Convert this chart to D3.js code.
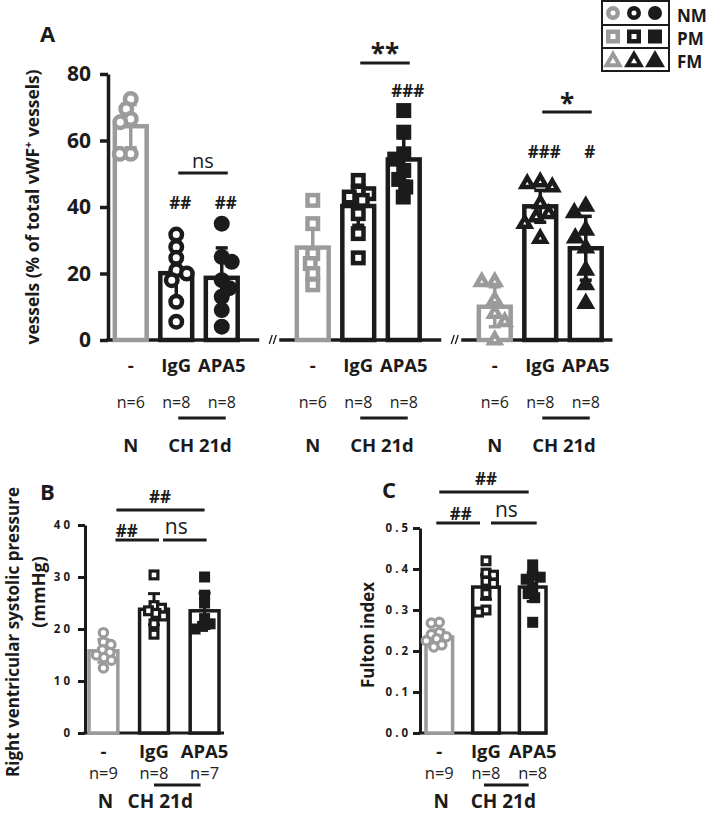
<!DOCTYPE html>
<html><head><meta charset="utf-8">
<script src="https://cdn.jsdelivr.net/npm/d3@7"></script>
<style>body{margin:0;background:#fff} text{font-family:"Open Sans",sans-serif;fill:#1b1b1b}</style>
</head><body><svg id="c" width="709" height="816"></svg>
<script>
// ---------------- DATA ----------------
const groupLabels = ["-", "IgG", "APA5"];
const conditionLabels = ["N", "CH 21d"];
const vesselTypes = ["NM", "PM", "FM"];
const nA = ["n=6", "n=8", "n=8"];
const aTicks = [0, 20, 40, 60, 80];

const nmMean = [64.3, 20.1, 18.7], nmSD = [6.5, 7.5, 9.0];
const pmMean = [27.8, 40.3, 54.3], pmSD = [8.5, 5.8, 6.5];
const fmMean = [10.0, 40.2, 27.6], fmSD = [6.0, 4.8, 9.6];
const nmPoints = [[72.5, 69.5, 66.5, 65.5, 56, 56], [31.7, 28, 24.7, 21, 20, 18, 11.5, 5.5], [35, 25, 23.5, 18, 15.6, 13, 9, 4]];
const pmPoints = [[42, 35, 26, 23, 20, 16.6], [48, 44.5, 44, 43, 42, 38, 32, 24.7], [69, 62.5, 56, 54.4, 51, 48.3, 46, 43]];
const fmPoints = [[17.5, 17.5, 12, 8, 5.5, 0], [47.5, 47, 46, 41, 38, 37, 35, 30.5], [40.2, 38.3, 33, 30.7, 27.7, 21, 16.6, 11]];
const aHash = [["", "##", "##"], ["", "", "###"], ["", "###", "#"]];
const aPair = ["ns", "**", "*"];

const nB = ["n=9", "n=8", "n=7"];
const bTicks = [0, 10, 20, 30, 40];
const rvspMean = [15.8, 23.8, 23.5], rvspSD = [2.2, 3.0, 3.4];
const rvspPoints = [[19.3, 17.5, 17, 16, 15.5, 15, 14.5, 14, 12.5], [30.4, 24.5, 24, 23.5, 23, 22.5, 21, 19], [30, 26.5, 25, 22, 21, 20.5, 20]];

const nC = ["n=9", "n=8", "n=8"];
const cTicks = [0, 0.1, 0.2, 0.3, 0.4, 0.5];
const fultonMean = [0.234, 0.356, 0.356], fultonSD = [0.017, 0.03, 0.035];
const fultonPoints = [[0.27, 0.268, 0.245, 0.24, 0.235, 0.23, 0.225, 0.215, 0.21], [0.42, 0.39, 0.385, 0.37, 0.365, 0.34, 0.30, 0.295], [0.41, 0.385, 0.38, 0.375, 0.355, 0.34, 0.33, 0.27]];
const sigBC = { top: "##", left: "##", right: "ns" };

// ---------------- HELPERS ----------------
const svg = d3.select("#c");
const GRAY = "#9b9b9b", BLK = "#1b1b1b";

function marker(g, shape, filled, color, cx, cy, size, sw) {
  if (shape === "circle") {
    g.append("circle").attr("cx", cx).attr("cy", cy)
      .attr("r", filled ? size / 2 : size / 2 - sw / 2)
      .attr("fill", filled ? color : "#fff").attr("stroke", filled ? "none" : color).attr("stroke-width", sw);
  } else if (shape === "square") {
    const s = filled ? size : size - sw;
    g.append("rect").attr("x", cx - s / 2).attr("y", cy - s / 2).attr("width", s).attr("height", s)
      .attr("fill", filled ? color : "#fff").attr("stroke", filled ? "none" : color).attr("stroke-width", sw);
  } else {
    const s = filled ? size : size - sw * Math.sqrt(3);
    const area = Math.sqrt(3) / 4 * s * s;
    g.append("path").attr("transform", `translate(${cx},${cy})`)
      .attr("d", d3.symbol(d3.symbolTriangle, area)())
      .attr("fill", filled ? color : "#fff").attr("stroke", filled ? "none" : color)
      .attr("stroke-width", sw).attr("stroke-linejoin", "miter");
  }
}

// deterministic beeswarm offsets
function swarm(values, yScale, diam, maxOff) {
  const minD = diam * 0.68;
  const placed = [];
  const res = new Array(values.length);
  const order = values.map((v, i) => i).sort((a, b) => values[b] - values[a]);
  order.forEach((i, k) => {
    const py = yScale(values[i]);
    const sign = k % 2 ? -1 : 1;
    let chosen = null, bestOff = 0, bestD = -1;
    for (let s = 0; s <= maxOff; s += 0.5) {
      for (const o of (s === 0 ? [0] : [sign * s, -sign * s])) {
        let md = Infinity;
        placed.forEach(p => { md = Math.min(md, Math.hypot(p[0] - o, p[1] - py)); });
        if (md >= minD) { chosen = o; break; }
        if (md > bestD) { bestD = md; bestOff = o; }
      }
      if (chosen !== null) break;
    }
    if (chosen === null) chosen = bestOff;
    placed.push([chosen, py]);
    res[i] = [chosen, py];
  });
  return res;
}

function styleAxis(g, sw, fs) {
  g.select(".domain").attr("stroke", BLK).attr("stroke-width", sw);
  g.selectAll(".tick line").attr("stroke", BLK).attr("stroke-width", sw);
  g.selectAll(".tick text").attr("font-size", fs).attr("font-weight", 700).attr("fill", BLK);
}

function txt(x, y, s, fs, fw, anchor) {
  return svg.append("text").attr("x", x).attr("y", y).attr("font-size", fs)
    .attr("font-weight", fw || 400).attr("text-anchor", anchor || "middle").text(s);
}
function hline(x1, x2, y, sw) {
  svg.append("line").attr("x1", x1).attr("x2", x2).attr("y1", y).attr("y2", y)
    .attr("stroke", BLK).attr("stroke-width", sw || 3);
}

// ---------------- PANEL A ----------------
const seriesA = [
  { shape: "circle", mean: nmMean, sd: nmSD, pts: nmPoints },
  { shape: "square", mean: pmMean, sd: pmSD, pts: pmPoints },
  { shape: "triangle", mean: fmMean, sd: fmSD, pts: fmPoints }
];
const slotsA = [];
vesselTypes.forEach((v, gi) => { groupLabels.forEach(g => slotsA.push(v + "|" + g)); if (gi < 2) slotsA.push("gap" + gi); });
const xA = d3.scaleBand().domain(slotsA).range([108, 608.5]).paddingInner(0.3).paddingOuter(0.15);
const yA = d3.scaleLinear().domain([0, 80]).range([340, 74]);
const bwA = xA.bandwidth();
const cA = k => xA(k) + bwA / 2;

txt(40, 42, "A", 22, 700, "start");
svg.append("text").attr("transform", "translate(39,207) rotate(-90)").attr("text-anchor", "middle")
  .attr("font-size", 17).attr("font-weight", 700).attr("textLength", 275).attr("lengthAdjust", "spacingAndGlyphs")
  .call(t => { t.append("tspan").text("vessels (% of total vWF"); t.append("tspan").attr("baseline-shift", "super").attr("font-size", 11).text("+"); t.append("tspan").text(" vessels)"); });

const gyA = svg.append("g").attr("transform", "translate(108,0)")
  .call(d3.axisLeft(yA).tickValues(aTicks).tickSize(8).tickSizeOuter(0).tickPadding(9));
styleAxis(gyA, 3.5, 21);

// x-axis segments with breaks
const gapC = gi => cA("gap" + gi);
vesselTypes.forEach((v, gi) => {
  const x1 = gi === 0 ? 106.3 : gapC(gi - 1) + 12;
  const x2 = gi === 2 ? xA.range()[1] + 4 : gapC(gi) - 8;
  hline(x1, x2, yA(0), 3.5);
  if (gi < 2) {
    const gc = gapC(gi);
    [2, 6].forEach(d => svg.append("line").attr("x1", gc + d).attr("y1", yA(0) + 4).attr("x2", gc + d + 3).attr("y2", yA(0) - 5)
      .attr("stroke", BLK).attr("stroke-width", 1.3));
  }
});

const pairLineY = [173, 63, 112], pairTextY = [168, 63, 113], hashY = [209, 97, 158];
seriesA.forEach((s, gi) => {
  const layer = svg.append("g");
  groupLabels.forEach((lab, bi) => {
    const key = vesselTypes[gi] + "|" + lab;
    const color = bi === 0 ? GRAY : BLK;
    const xc = cA(key);
    layer.append("rect").attr("x", xA(key)).attr("width", bwA)
      .attr("y", yA(s.mean[bi])).attr("height", yA(0) - yA(s.mean[bi]))
      .attr("fill", "#fff").attr("stroke", color).attr("stroke-width", 4.5);
    const lo = yA(s.mean[bi] - s.sd[bi]), hi = yA(s.mean[bi] + s.sd[bi]);
    layer.append("line").attr("x1", xc).attr("x2", xc).attr("y1", lo).attr("y2", hi).attr("stroke", color).attr("stroke-width", 3.5);
    [lo, hi].forEach(yy => layer.append("line").attr("x1", xc - 6).attr("x2", xc + 6).attr("y1", yy).attr("y2", yy).attr("stroke", color).attr("stroke-width", 3.5));
    const size = s.shape === "triangle" ? 19 : (s.shape === "square" ? 15 : 16);
    const pos = swarm(s.pts[bi], yA, size, bwA / 2);
    pos.forEach(p => marker(layer, s.shape, bi === 2, color, xc + p[0], p[1], size, 4.5));
    // labels below
    txt(xc, 372, lab, 18.5, 700);
    txt(xc, 408, nA[bi], 16, 400).style("fill", "#222");
    if (aHash[gi][bi]) txt(xc + 4, hashY[gi], aHash[gi][bi], 17, 700);
  });
  const x1 = cA(vesselTypes[gi] + "|IgG"), x2 = cA(vesselTypes[gi] + "|APA5");
  hline(x1 + 2, x2 + 6, pairLineY[gi], 3);
  txt((x1 + x2) / 2 + 4, pairTextY[gi], aPair[gi], aPair[gi] === "ns" ? 20 : 26, aPair[gi] === "ns" ? 400 : 700);
  hline(x1 + 2, x2 + 4, 418, 3);
  txt(cA(vesselTypes[gi] + "|-"), 452, conditionLabels[0], 18.5, 700);
  txt((x1 + x2) / 2 + 1, 452, conditionLabels[1], 18.5, 700);
});

// legend
const lg = svg.append("g");
lg.append("rect").attr("x", 602).attr("y", 1).attr("width", 67).attr("height", 70).attr("fill", "none").attr("stroke", BLK).attr("stroke-width", 2);
[25, 48].forEach(y => lg.append("line").attr("x1", 602).attr("x2", 669).attr("y1", y).attr("y2", y).attr("stroke", BLK).attr("stroke-width", 2));
const legY = [13, 36.5, 60];
["circle", "square", "triangle"].forEach((sh, ri) => {
  [613, 634, 655].forEach((x, ci) => {
    const size = sh === "triangle" ? 20 : 14;
    marker(lg, sh, ci === 2, ci === 0 ? GRAY : BLK, x, legY[ri] + (sh === "triangle" ? 1.5 : 0), size, sh === "triangle" ? 4 : 4.5);
  });
  lg.append("text").attr("x", 677).attr("y", [22, 44.5, 68][ri]).attr("font-size", 17).attr("font-weight", 700).text(vesselTypes[ri]);
});

// ---------------- PANELS B & C ----------------
function smallPanel(cfg) {
  const x = d3.scaleBand().domain(groupLabels).range(cfg.xr).paddingInner(0.43).paddingOuter(0);
  const y = d3.scaleLinear().domain(cfg.dom).range([733, cfg.top]);
  const bw = x.bandwidth(), c = k => x(k) + bw / 2;
  const ga = svg.append("g").attr("transform", `translate(${cfg.ax},0)`)
    .call(d3.axisLeft(y).tickValues(cfg.ticks).tickSize(7).tickSizeOuter(0).tickPadding(cfg.pad)
      .tickFormat(d => cfg.fmt(d).split("").join(" ")));
  styleAxis(ga, 3, 11.5);
  hline(cfg.ax - 1.5, cfg.axEnd, 733, 3);
  const layer = svg.append("g");
  groupLabels.forEach((lab, bi) => {
    const color = bi === 0 ? GRAY : BLK, xc = c(lab);
    layer.append("rect").attr("x", x(lab)).attr("width", bw).attr("y", y(cfg.mean[bi])).attr("height", 733 - y(cfg.mean[bi]))
      .attr("fill", "#fff").attr("stroke", color).attr("stroke-width", 3.5);
    const lo = y(cfg.mean[bi] - cfg.sd[bi]), hi = y(cfg.mean[bi] + cfg.sd[bi]);
    layer.append("line").attr("x1", xc).attr("x2", xc).attr("y1", lo).attr("y2", hi).attr("stroke", color).attr("stroke-width", 3);
    [lo, hi].forEach(yy => layer.append("line").attr("x1", xc - 6).attr("x2", xc + 6).attr("y1", yy).attr("y2", yy).attr("stroke", color).attr("stroke-width", 3));
    const shape = bi === 0 ? "circle" : "square";
    const size = bi === 0 ? 11.5 : 11;
    swarm(cfg.pts[bi], y, size, bw / 2).forEach(p => marker(layer, shape, bi === 2, color, xc + p[0], p[1], size, 3.2));
    txt(xc, 758, lab, 18.5, 700);
    txt(xc, 779, cfg.n[bi], 16.5, 400).style("fill", "#222");
  });
  const cN = c("-"), cI = c("IgG"), cP = c("APA5");
  hline(cI + cfg.nl[0], cP + cfg.nl[1], 785, 3);
  txt(cN + 2, 808, conditionLabels[0], 19, 700);
  txt((cI + cP) / 2 + cfg.chdx, 808, conditionLabels[1], 19, 700);
  // significance
  hline(cN + cfg.top1[0], cP + cfg.top1[1], cfg.topY, 3);
  txt((cN + cP) / 2 + cfg.top1[2], cfg.topY - 7, sigBC.top, 17, 700);
  hline(cN + cfg.l2[0], cI + cfg.l2[1], cfg.rowY, 3);
  txt((cN + cI) / 2 + cfg.l2[2], cfg.rowY - 3, sigBC.left, 17, 700);
  hline(cI + cfg.r2[0], cP + cfg.r2[1], cfg.rowY, 3);
  txt((cI + cP) / 2 + cfg.r2[2], cfg.rowY - 6, sigBC.right, 21, 400);
  txt(cfg.lx, cfg.ly, cfg.letter, 22, 700, "start");
}

smallPanel({ xr: [89, 219], ax: 85, axEnd: 224, dom: [0, 40], top: 525, ticks: bTicks, pad: 8, fmt: d3.format("d"),
  mean: rvspMean, sd: rvspSD, pts: rvspPoints, n: nB, nl: [0, -4], chdx: -19,
  top1: [13, 0, 6], topY: 510, l2: [12, 5, -2], r2: [9, 2, -3], rowY: 540, letter: "B", lx: 40, ly: 500 });
smallPanel({ xr: [426, 546], ax: 420, axEnd: 547, dom: [0, 0.5], top: 528, ticks: cTicks, pad: 5, fmt: d3.format(".1f"),
  mean: fultonMean, sd: fultonSD, pts: fultonPoints, n: nC, nl: [-2, -4], chdx: -6,
  top1: [0, -4, 0], topY: 492, l2: [-3, -6, -2], r2: [5, 4, -3], rowY: 523, letter: "C", lx: 382, ly: 498 });

// rotated axis titles B & C
svg.append("text").attr("transform", "translate(19,632) rotate(-90)").attr("text-anchor", "middle")
  .attr("font-size", 18).attr("font-weight", 700).attr("textLength", 290).attr("lengthAdjust", "spacingAndGlyphs")
  .text("Right ventricular systolic pressure");
svg.append("text").attr("transform", "translate(45,592) rotate(-90)").attr("text-anchor", "middle")
  .attr("font-size", 18).attr("font-weight", 700).text("(mmHg)");
svg.append("text").attr("transform", "translate(374,635) rotate(-90)").attr("text-anchor", "middle")
  .attr("font-size", 17).attr("font-weight", 700).text("Fulton index");
</script></body></html>
